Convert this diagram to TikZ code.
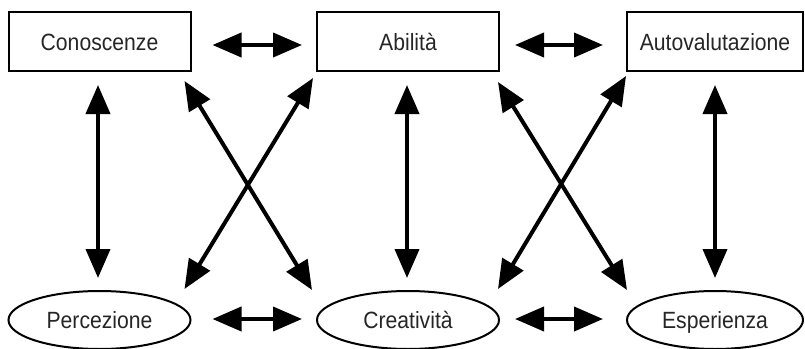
\documentclass[tikz,border=0pt]{standalone}
\usepackage{fontspec}
\setmainfont{Liberation Sans}[FakeStretch=0.9]
\usetikzlibrary{arrows.meta,shapes.geometric}
\definecolor{ink}{HTML}{262626}
\tikzset{
  x=1pt, y=-1pt,
  label text/.style={font=\fontsize{23.5}{27}\selectfont, text=ink, text height=17pt, text depth=0pt},
  topbox/.style={draw, line width=2pt, rectangle, outer sep=0pt, inner sep=0pt,
                 minimum width=182pt, minimum height=59pt, label text},
  botoval/.style={draw, line width=2pt, ellipse, outer sep=0pt, inner sep=0pt,
                  minimum width=182pt, minimum height=58pt, label text},
  link/.style={line width=4pt, {Triangle[length=29pt,width=24pt]}-{Triangle[length=29pt,width=24pt]}},
}
\begin{document}
\begin{tikzpicture}
\useasboundingbox (0,0) rectangle (805,348);

% upper row
\node[topbox] (con) at (99.5,41.5) {Conoscenze};
\node[topbox] (abi) at (408,41.5) {Abilità};
\node[topbox, minimum width=176pt] (aut) at (715,41.5) {Autovalutazione};

% lower row
\node[botoval] (per) at (99.5,320) {Percezione};
\node[botoval] (cre) at (408,320) {Creatività};
\node[botoval, minimum width=176pt] (esp) at (715,320) {Esperienza};

% horizontal links
\draw[link] ([xshift=22pt,yshift=-3.5pt]con.east) -- ([xshift=-15pt,yshift=-3.5pt]abi.west);
\draw[link] ([xshift=16pt,yshift=-3.5pt]abi.east) -- ([xshift=-24pt,yshift=-3.5pt]aut.west);
\draw[link] ([xshift=22pt,yshift=1pt]per.east) -- ([xshift=-15pt,yshift=1pt]cre.west);
\draw[link] ([xshift=16pt,yshift=1pt]cre.east) -- ([xshift=-24pt,yshift=1pt]esp.west);

% vertical links
\draw[link] ([xshift=-1.5pt,yshift=-14pt]con.south) -- ([xshift=-1.5pt,yshift=13pt]per.north);
\draw[link] ([xshift=-1pt,yshift=-14pt]abi.south) -- ([xshift=-1pt,yshift=13pt]cre.north);
\draw[link] ([yshift=-14pt]aut.south) -- ([yshift=13pt]esp.north);

% crossing links
\draw[link] ([xshift=-6pt,yshift=-10pt]con.south east) -- ([xshift=-5pt,yshift=30pt]cre.west);
\draw[link] ([xshift=-4pt,yshift=-7pt]abi.south west) -- ([xshift=-6pt,yshift=31pt]per.east);
\draw[link] ([xshift=-1pt,yshift=-11pt]abi.south east) -- ([yshift=30pt]esp.west);
\draw[link] ([xshift=-1pt,yshift=-5pt]aut.south west) -- ([xshift=-1pt,yshift=31pt]cre.east);
\end{tikzpicture}
\end{document}
